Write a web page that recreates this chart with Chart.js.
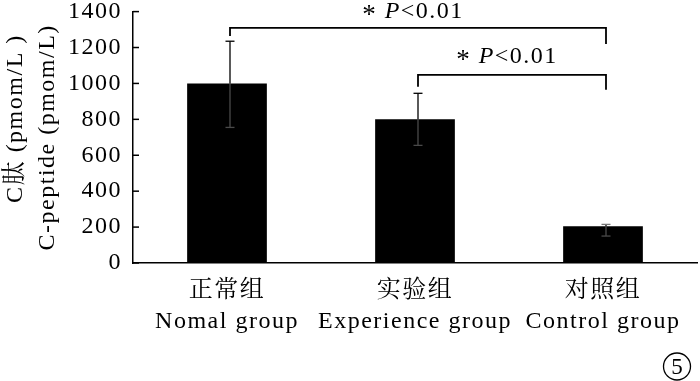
<!DOCTYPE html>
<html><head><meta charset="utf-8">
<script src="https://cdn.jsdelivr.net/npm/chart.js@4.4.1/dist/chart.umd.min.js"></script>
<style>html,body{margin:0;padding:0;background:#fff;} canvas{display:block;}</style>
</head><body>
<canvas id="c" width="700" height="381"></canvas>
<script>
// ---- data ----
const categories = [['正常组', 'Nomal group'], ['实验组', 'Experience group'], ['对照组', 'Control group']];
const cPeptideMean = [1000, 800, 205];
const errorUpper = [1235, 945, 215];
const errorLower = [755, 655, 150];
const yTickValues = [0, 200, 400, 600, 800, 1000, 1200, 1400];
const yTitleLines = ['     C肽 (pmom/L )', 'C-peptide (pmom/L)'];
const comparisonFrom = [0, 1];
const comparisonTo = [2, 2];
const comparisonLabel = ['P<0.01', 'P<0.01'];
const panelLabel = '5';

// ---- styling / layout ----
const FONT = "'Liberation Serif','Noto Serif CJK SC','Noto Sans CJK SC',serif";
const SPACING = '1.5px';
const FS = 24;
const bracketStyle = [
  { level: 1309, legL: 8, legR: 16, textLift: 10 },
  { level: 1048, legL: 12, legR: 15, textLift: 12 }
];

const spacingPlugin = {
  id: 'spacing',
  beforeUpdate(c) { c.ctx.letterSpacing = SPACING; },
  beforeLayout(c) { c.ctx.letterSpacing = SPACING; },
  beforeDraw(c) { c.ctx.letterSpacing = SPACING; }
};

function seg(ctx, x1, y1, x2, y2) { ctx.beginPath(); ctx.moveTo(x1, y1); ctx.lineTo(x2, y2); ctx.stroke(); }

const annotPlugin = {
  id: 'annot',
  afterDraw(c) {
    const ctx = c.ctx, y = c.scales.y, area = c.chartArea;
    const meta = c.getDatasetMeta(0);
    ctx.save();
    ctx.letterSpacing = SPACING;
    // inward y ticks
    ctx.strokeStyle = '#000'; ctx.lineWidth = 1.5;
    y.ticks.forEach(t => {
      const py = y.getPixelForValue(t.value);
      seg(ctx, area.left, py, area.left + 6, py);
    });
    // error bars
    meta.data.forEach((bar, i) => {
      const ex = bar.x + 3;
      const yt = y.getPixelForValue(errorUpper[i]);
      const yb = y.getPixelForValue(errorLower[i]);
      const top = bar.y;
      ctx.lineWidth = 1.3;
      ctx.strokeStyle = '#000';
      seg(ctx, ex, yt, ex, top);
      ctx.strokeStyle = yt < top - 3 ? '#000' : '#777';
      seg(ctx, ex - 4.5, yt, ex + 4.5, yt);
      ctx.strokeStyle = '#4a4a4a';
      seg(ctx, ex, top, ex, yb);
      seg(ctx, ex - 4.5, yb, ex + 4.5, yb);
    });
    // significance brackets
    comparisonFrom.forEach((f, k) => {
      const st = bracketStyle[k];
      const x1 = meta.data[f].x + 3, x2 = meta.data[comparisonTo[k]].x + 3;
      const by = y.getPixelForValue(st.level);
      ctx.strokeStyle = '#000'; ctx.lineWidth = 1.8;
      ctx.beginPath();
      ctx.moveTo(x1, by + st.legL); ctx.lineTo(x1, by); ctx.lineTo(x2, by); ctx.lineTo(x2, by + st.legR);
      ctx.stroke();
      const lab = comparisonLabel[k];
      const pieces = [
        { t: '*', f: `27px ${FONT}`, dy: 5 },
        { t: ' ', f: `${FS}px ${FONT}`, dy: 0 },
        { t: lab.charAt(0), f: `italic ${FS}px ${FONT}`, dy: 0 },
        { t: lab.slice(1), f: `${FS}px ${FONT}`, dy: 0 }
      ];
      let total = 0;
      pieces.forEach(p => { ctx.font = p.f; p.w = ctx.measureText(p.t).width; total += p.w; });
      let tx = (x1 + x2) / 2 - 5 - total / 2;
      const base = by - st.textLift;
      ctx.fillStyle = '#000'; ctx.textAlign = 'left'; ctx.textBaseline = 'alphabetic';
      pieces.forEach(p => { ctx.font = p.f; ctx.fillText(p.t, tx, base + p.dy); tx += p.w; });
    });
    // panel number in circle
    const cx = c.width - 23, cy = c.height - 14.5;
    ctx.lineWidth = 1.3; ctx.strokeStyle = '#000';
    ctx.beginPath(); ctx.arc(cx, cy, 13.5, 0, Math.PI * 2); ctx.stroke();
    ctx.letterSpacing = '0px';
    ctx.font = `23px ${FONT}`; ctx.textAlign = 'center'; ctx.textBaseline = 'middle';
    ctx.fillText(panelLabel, cx, cy + 1);
    ctx.restore();
  }
};

Chart.defaults.color = '#000';

new Chart(document.getElementById('c'), {
  type: 'bar',
  data: {
    labels: categories,
    datasets: [{
      data: cPeptideMean,
      backgroundColor: '#000',
      borderWidth: 0,
      categoryPercentage: 1,
      barPercentage: 0.424
    }]
  },
  options: {
    responsive: false,
    devicePixelRatio: 1,
    animation: false,
    layout: { padding: { left: 0, right: 3, top: 0, bottom: 0 } },
    plugins: { legend: { display: false }, tooltip: { enabled: false } },
    scales: {
      x: {
        type: 'category',
        offset: true,
        grid: { display: false, drawTicks: false },
        border: { display: true, color: '#000', width: 1.5 },
        ticks: {
          font: { family: FONT, size: FS, lineHeight: 1.3 },
          color: '#000', padding: 12, maxRotation: 0, autoSkip: false
        },
        afterFit: s => { s.height = 118; }
      },
      y: {
        min: 0, max: 1400,
        grid: { display: false, drawTicks: false },
        border: { display: true, color: '#000', width: 1.5 },
        afterBuildTicks: s => { s.ticks = yTickValues.map(v => ({ value: v })); },
        ticks: {
          font: { family: FONT, size: FS, lineHeight: 0.05 },
          color: '#000', padding: 11, autoSkip: false,
          callback: v => String(v)
        },
        title: {
          display: true,
          text: yTitleLines,
          font: { family: FONT, size: FS, lineHeight: 1.333 },
          color: '#000',
          padding: { top: 0, bottom: 0 }
        },
        afterFit: s => { s.width = 133; }
      }
    }
  },
  plugins: [spacingPlugin, annotPlugin]
});
</script>
</body></html>
